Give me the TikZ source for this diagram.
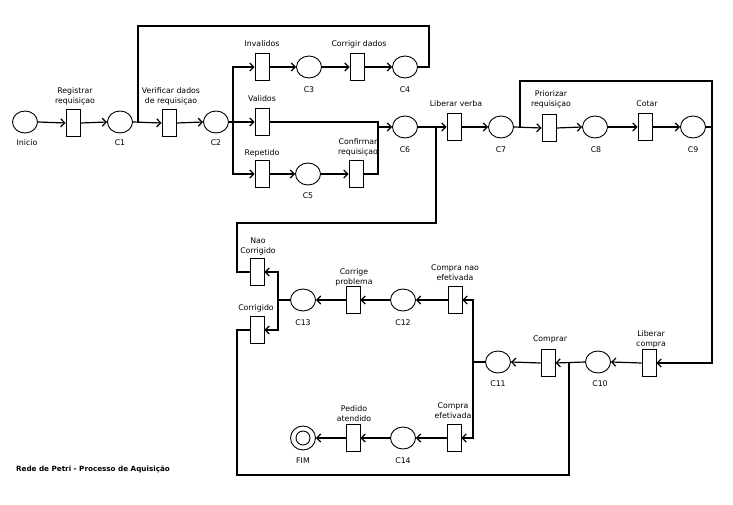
\documentclass[tikz,border=0pt]{standalone}
\usepackage{fontspec}
\setmainfont{DejaVu Sans}
\usepackage{tikz}
\usetikzlibrary{arrows.meta,shapes.geometric}

\begin{document}
\begin{tikzpicture}[x=1pt,y=-1pt,
  font=\fontsize{7.8}{10}\selectfont,
  place/.style={draw=black,line width=0.9pt,ellipse,minimum width=25pt,
    minimum height=22pt,inner sep=0pt},
  trans/.style={draw=black,line width=0.9pt,minimum width=14pt,
    minimum height=27pt,inner sep=0pt},
  flow/.style={-{Straight Barb[length=4pt,width=8pt]},draw=black,line width=1.2pt},
  wire/.style={draw=black,line width=1.2pt},
  tag/.style={align=center,inner sep=0pt}]
\useasboundingbox (0,0) rectangle (733,505);

% linha superior
\node[place] (inicio) at (25,122) {};
\node[trans] (t_reg) at (73,123) {};
\node[place] (c1) at (120,122) {};
\node[trans] (t_ver) at (169,123) {};
\node[place] (c2) at (216,122) {};
\node[trans] (t_inv) at (262,67) {};
\node[place] (c3) at (309,67) {};
\node[trans] (t_cor) at (357,67) {};
\node[place] (c4) at (405,67) {};
\node[trans] (t_val) at (262,122) {};
\node[trans] (t_rep) at (262,174) {};
\node[place] (c5) at (308,174) {};
\node[trans] (t_conf) at (356,174) {};
\node[place] (c6) at (405,127) {};
\node[trans] (t_lib) at (454,127) {};
\node[place] (c7) at (501,127) {};
\node[trans] (t_pri) at (549,128) {};
\node[place] (c8) at (595,127) {};
\node[trans] (t_cot) at (645,127) {};
\node[place] (c9) at (693,127) {};

% linha de compra
\node[trans] (t_lc) at (649,363) {};
\node[place] (c10) at (598,362) {};
\node[trans] (t_comp) at (548,363) {};
\node[place] (c11) at (498,362) {};
\node[trans] (t_cne) at (455,300) {};
\node[place] (c12) at (403,300) {};
\node[trans] (t_cp) at (353,300) {};
\node[place] (c13) at (303,300) {};
\node[trans] (t_nao) at (257,272) {};
\node[trans] (t_corr) at (257,330) {};
\node[trans] (t_ce) at (454,438) {};
\node[place] (c14) at (403,438) {};
\node[trans] (t_ped) at (353,438) {};
\node[place,minimum width=25pt,minimum height=24pt] (fim) at (303,438) {};
\node[draw=black,line width=0.9pt,circle,minimum size=14pt,inner sep=0pt] (fim_in) at (fim.center) {};

% textos
\node[tag] (l_inicio) at (27,143) {Inicio};
\node[tag] (l_reg) at (75,96) {Registrar\\requisiçao};
\node[tag] (l_c1) at (120,143) {C1};
\node[tag] (l_ver) at (171,96) {Verificar dados\\de requisiçao};
\node[tag] (l_c2) at (216,143) {C2};
\node[tag] (l_inv) at (262,44) {Invalidos};
\node[tag] (l_c3) at (309,90) {C3};
\node[tag] (l_cor) at (359,44) {Corrigir dados};
\node[tag] (l_c4) at (405,90) {C4};
\node[tag] (l_val) at (262,99) {Validos};
\node[tag] (l_rep) at (262,153) {Repetido};
\node[tag] (l_c5) at (308,196) {C5};
\node[tag] (l_conf) at (358,147) {Confirmar\\requisiçao};
\node[tag] (l_c6) at (405,150) {C6};
\node[tag] (l_lib) at (456,104) {Liberar verba};
\node[tag] (l_c7) at (501,150) {C7};
\node[tag] (l_pri) at (551,99) {Priorizar\\requisiçao};
\node[tag] (l_c8) at (596,150) {C8};
\node[tag] (l_cot) at (647,104) {Cotar};
\node[tag] (l_c9) at (693,150) {C9};
\node[tag] (l_lc) at (651,339) {Liberar\\compra};
\node[tag] (l_c10) at (600,384) {C10};
\node[tag] (l_comp) at (550,339) {Comprar};
\node[tag] (l_c11) at (498,384) {C11};
\node[tag] (l_cne) at (455,273) {Compra nao\\efetivada};
\node[tag] (l_c12) at (403,323) {C12};
\node[tag] (l_cp) at (354,277) {Corrige\\problema};
\node[tag] (l_c13) at (303,323) {C13};
\node[tag] (l_nao) at (258,246) {Nao\\Corrigido};
\node[tag] (l_corr) at (256,308) {Corrigido};
\node[tag] (l_ce) at (453,411) {Compra\\efetivada};
\node[tag] (l_c14) at (403,461) {C14};
\node[tag] (l_ped) at (354,414) {Pedido\\atendido};
\node[tag] (l_fim) at (303,461) {FIM};
\node[tag,font=\fontsize{7.2}{8}\selectfont\bfseries] (titulo) at (93,469) {Rede de Petri - Processo de Aquisição};

% junções
\coordinate (j1) at (138,122);
\coordinate (top4) at (429,26);
\coordinate (j2) at (233,122);
\coordinate (j6) at (378,127);
\coordinate (j7) at (436,127);
\coordinate (top7) at (237,223);
\coordinate (j8) at (520,127);
\coordinate (top8) at (520,81);
\coordinate (r9) at (712,127);
\coordinate (j10) at (569,362);
\coordinate (bot10) at (237,475);
\coordinate (j11) at (473,362);
\coordinate (j13) at (278,300);

\draw[flow] (inicio.east)--(t_reg.west);
\draw[flow] (t_reg.east)--(c1.west);
\draw[flow] (c1.east)--(t_ver.west);
\draw[flow] (t_ver.east)--(c2.west);
\draw[wire] (c4.east)-|(top4)-|(j1);
\draw[flow] (c2.east)--(t_val.west);
\draw[flow] (j2)|-(t_inv.west);
\draw[flow] (j2)|-(t_rep.west);
\draw[flow] (t_inv.east)--(c3.west);
\draw[flow] (c3.east)--(t_cor.west);
\draw[flow] (t_cor.east)--(c4.west);
\draw[flow] (t_rep.east)--(c5.west);
\draw[flow] (c5.east)--(t_conf.west);
\draw[wire] (t_val.east)-|(j6);
\draw[wire] (t_conf.east)-|(j6);
\draw[flow] (j6)--(c6.west);
\draw[flow] (c6.east)--(t_lib.west);
\draw[wire] (t_nao.west)-|(top7)-|(j7);
\draw[flow] (t_lib.east)--(c7.west);
\draw[flow] (c7.east)--(t_pri.west);
\draw[flow] (t_pri.east)--(c8.west);
\draw[flow] (c8.east)--(t_cot.west);
\draw[flow] (t_cot.east)--(c9.west);
\draw[wire] (j8)--(top8)-|(r9);
\draw[flow] (c9.east)--(r9)|-(t_lc.east);
\draw[flow] (t_lc.west)--(c10.east);
\draw[flow] (c10.west)--(t_comp.east);
\draw[flow] (t_comp.west)--(c11.east);
\draw[wire] (t_corr.west)-|(bot10)-|(j10);
\draw[wire] (c11.west)--(j11);
\draw[flow] (j11)|-(t_cne.east);
\draw[flow] (j11)|-(t_ce.east);
\draw[flow] (t_cne.west)--(c12.east);
\draw[flow] (c12.west)--(t_cp.east);
\draw[flow] (t_cp.west)--(c13.east);
\draw[wire] (c13.west)--(j13);
\draw[flow] (j13)|-(t_nao.east);
\draw[flow] (j13)|-(t_corr.east);
\draw[flow] (t_ce.west)--(c14.east);
\draw[flow] (c14.west)--(t_ped.east);
\draw[flow] (t_ped.west)--(fim.east);
\end{tikzpicture}
\end{document}
